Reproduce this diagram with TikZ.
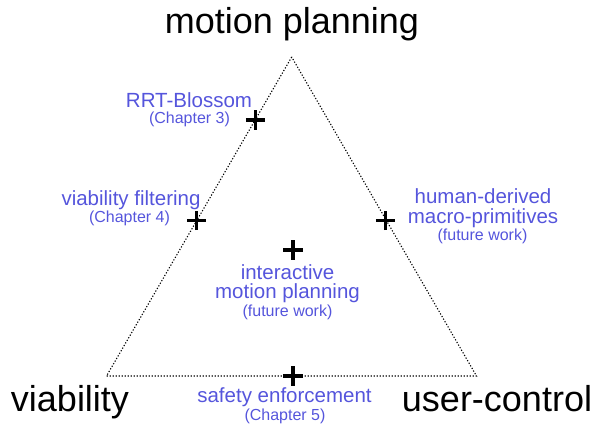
\documentclass[tikz,border=0pt]{standalone}
\usepackage{fontspec}
\setmainfont{Liberation Sans}
\usetikzlibrary{shapes.misc}
\definecolor{notecol}{RGB}{85,85,220}
\begin{document}
\begin{tikzpicture}[x=1bp,y=-1bp,
  corner/.style={anchor=base,inner sep=0pt,font=\fontsize{36bp}{40bp}\selectfont},
  note/.style={anchor=base,inner sep=0pt,text=notecol,font=\fontsize{20.5bp}{24bp}\selectfont},
  subnote/.style={anchor=base,inner sep=0pt,text=notecol,font=\fontsize{16bp}{19bp}\selectfont},
  plusmark/.style={cross out,rotate=45,draw=black,line width=3.2bp,minimum size=13.5bp,inner sep=0pt,outer sep=0pt},
  tri/.style={draw=black,line width=1.1bp,dash pattern=on 1.2bp off 1.8bp}]
\useasboundingbox (0,0) rectangle (596,425);

% triangle corners
\coordinate (apex) at (291.7,57);
\coordinate (bl) at (106.5,376);
\coordinate (br) at (476.5,376);
\draw[tri] (apex) -- (bl) -- (br) -- cycle;

% corner captions
\node[corner] (mp) at (292,33) {motion planning};
\node[corner] (via) at (70,411.5) {viability};
\node[corner] (uc) at (497,411.5) {user-control};

% markers
\node[plusmark] (prrt) at (255.5,120) {};
\node[plusmark] (pvf) at (196.8,220.5) {};
\node[plusmark] (phd) at (385.5,220.5) {};
\node[plusmark] (pimp) at (293,250) {};
\node[plusmark] (pse) at (293,376) {};

% annotations
\node[note] (rrt) at (189,107) {RRT-Blossom};
\node[subnote] (rrtc) at (189.5,123.5) {(Chapter 3)};

\node[note] (vf) at (131,205) {viability filtering};
\node[subnote] (vfc) at (129.5,222) {(Chapter 4)};

\node[note] (hd1) at (483,203) {human-derived};
\node[note] (hd2) at (483,223) {macro-primitives};
\node[subnote] (hdc) at (482.5,240) {(future work)};

\node[note] (imp1) at (287.5,279) {interactive};
\node[note] (imp2) at (287.5,298.5) {motion planning};
\node[subnote] (impc) at (287.5,316) {(future work)};

\node[note] (se) at (284.5,402.5) {safety enforcement};
\node[subnote] (sec) at (285,420) {(Chapter 5)};
\end{tikzpicture}
\end{document}
